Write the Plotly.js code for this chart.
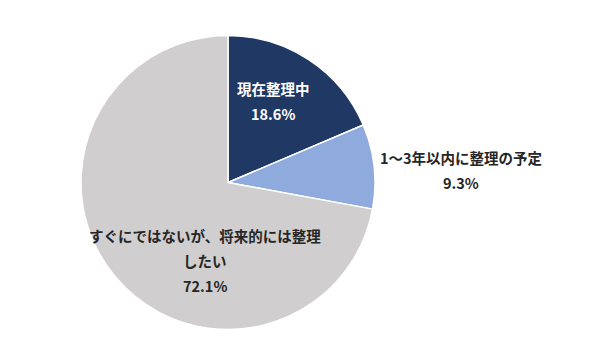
<!DOCTYPE html>
<html><head><meta charset="utf-8">
<script src="https://cdn.plot.ly/plotly-3.0.1.min.js"></script>
<style>html,body{margin:0;padding:0;background:#fff}#c{width:600px;height:355px}</style>
</head><body><div id="c"></div>
<script>
const categories = ["現在整理中", "1～3年以内に整理の予定", "すぐにではないが、将来的には整理したい"];
const labelLines = [["現在整理中"], ["1～3年以内に整理の予定"], ["すぐにではないが、将来的には整理", "したい"]];
const values = [18.6, 9.3, 72.1];
const colors = ["#203864", "#8faadc", "#d0cece"];
const textColors = ["#ffffff", "#262626", "#262626"];

// label anchor positions (px) for each slice label block: [x, yFirstLine]
const labelPos = [[273, 88], [461, 157], [205, 235]];
const lineGap = 25;
const W = 600, H = 355;

const annotations = [];
categories.forEach((c, i) => {
  const lines = labelLines[i].concat([values[i].toFixed(1) + "%"]);
  lines.forEach((t, j) => {
    annotations.push({
      text: t, showarrow: false, xref: "paper", yref: "paper",
      x: labelPos[i][0] / W, y: 1 - (labelPos[i][1] + j * lineGap) / H,
      xanchor: "center", yanchor: "middle",
      font: {family: "Noto Sans CJK JP", size: 14.5, color: textColors[i], weight: "bold"}
    });
  });
});

const data = [{
  type: "pie", labels: categories, values: values, sort: false,
  direction: "clockwise", rotation: 0, textinfo: "none", hoverinfo: "label+percent",
  marker: {colors: colors, line: {color: "#ffffff", width: 1.5}},
  domain: {x: [81 / W, 375 / W], y: [25 / H, 320 / H]}
}];
const layout = {
  width: W, height: H, margin: {l: 0, r: 0, t: 0, b: 0},
  showlegend: false, paper_bgcolor: "#ffffff", annotations: annotations,
  font: {family: "Noto Sans CJK JP"}
};
Plotly.newPlot("c", data, layout, {displayModeBar: false, staticPlot: true});
</script></body></html>
